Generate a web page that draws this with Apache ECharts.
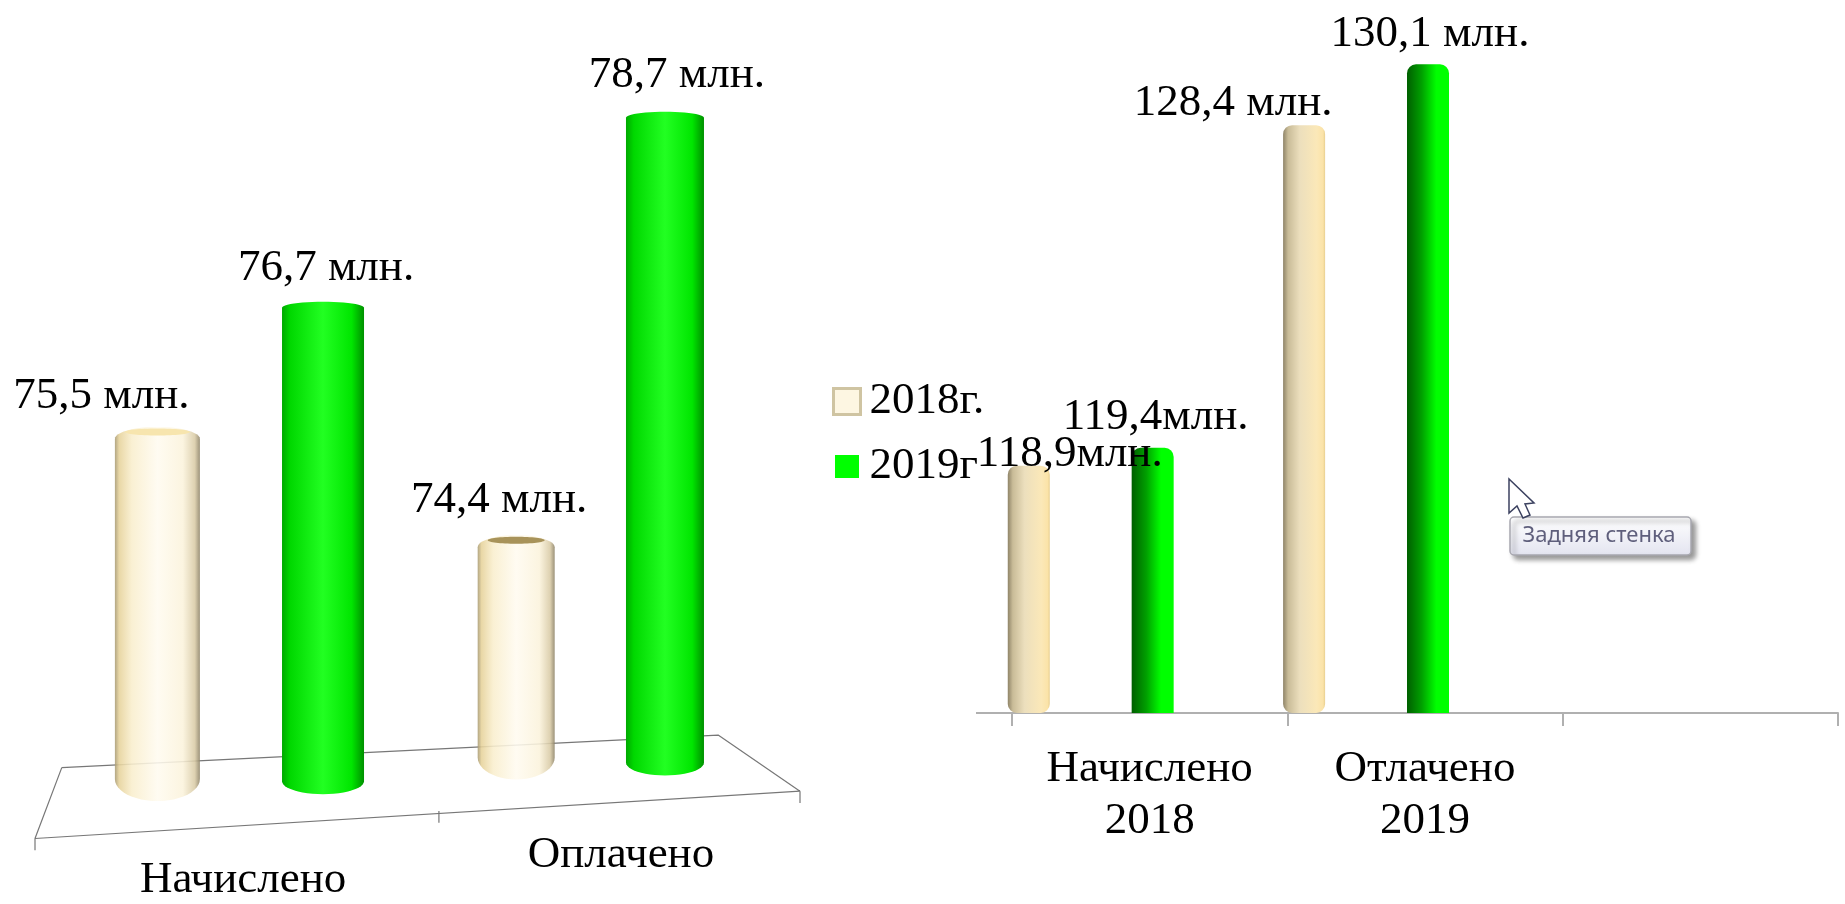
<!DOCTYPE html>
<html>
<head>
<meta charset="utf-8">
<style>
  html, body { margin: 0; padding: 0; background: #fff; }
  #chart { width: 1845px; height: 904px; }
</style>
<script src="https://cdn.jsdelivr.net/npm/echarts@6/dist/echarts.min.js"></script>
</head>
<body>
<div id="chart"></div>
<script>
// data: left chart
const left2018 = [75.5, 74.4];
const left2019 = [76.7, 78.7];
const left2018Labels = ['75,5 млн.', '74,4 млн.'];
const left2019Labels = ['76,7 млн.', '78,7 млн.'];
const leftCategories = ['Начислено', 'Оплачено'];

// data: right chart
const rightCategories = ['Начислено\n2018', 'Отлачено\n2019', ''];
const right2018 = [118.9, 128.4];
const right2019 = [119.4, 130.1];
const right2018Labels = ['118,9млн.', '128,4 млн.'];
const right2019Labels = ['119,4млн.', '130,1 млн.'];
const rightAxisFloor = 112;

// left chart is a flat perspective picture, so the floor and the bar feet are read in axis units
const left2018Foot = [71.7, 71.92];
const left2019Foot = [71.77, 71.96];
const left2018X = [0.32, 1.258];
const left2019X = [0.753, 1.647];
const floorX = [0.07, 1.786, 2, 0, 0.07];
const floorY = [72.04, 72.37, 71.8, 71.32, 72.04];
const floorTickX = [0, 1.056, 2];
const floorTickY = [71.32, 71.6, 71.8];
const leftCategoryX = [0.544, 1.532];
const leftCategoryY = [70.9, 71.15];

const FONT = '"Liberation Serif", "Times New Roman", serif';
const TEXT_SIZE = 45;

const chart = echarts.init(document.getElementById('chart'));

const hGrad = stops => new echarts.graphic.LinearGradient(0, 0, 1, 0,
  stops.map(s => ({ offset: s[0], color: s[1] })));

const beigeCylinder = hGrad([[0, '#a89a72'], [0.05, '#e6d29a'], [0.2, '#f9eecd'], [0.5, '#fffbf0'],
  [0.8, '#fbf3dc'], [0.94, '#d9cba6'], [1, '#8f8468']]);
const greenCylinder = hGrad([[0, '#00a800'], [0.1, '#00d800'], [0.5, '#22ff22'], [0.85, '#00e600'], [1, '#009000']]);
const beigeBar = hGrad([[0, '#8f8468'], [0.12, '#c9bc98'], [0.4, '#ecdfbd'], [0.8, '#fbe8b8'], [0.95, '#fbe3a8'], [1, '#e8cf90']]);
const greenBar = hGrad([[0, '#005f00'], [0.35, '#00a000'], [0.7, '#00ff00'], [1, '#00ff00']]);

// half ellipse points from left to right edge, bulging by ry (negative bulges up)
const arcPoints = (cx, cy, rx, ry, flip) => {
  const pts = [];
  for (let i = 0; i <= 24; i++) {
    const a = Math.PI * i / 24;
    const x = cx - Math.cos(a) * rx;
    pts.push([flip ? 2 * cx - x : x, cy + Math.sin(a) * ry]);
  }
  return pts;
};

const cylinderItem = (opts) => (params, api) => {
  const i = params.dataIndex;
  const top = api.coord([api.value(0), api.value(1)]);
  const foot = api.coord([api.value(0), api.value(2)]);
  const w = opts.widths[i];
  const cx = top[0];
  const topY = top[1] - opts.lift[i];
  const points = arcPoints(cx, topY + opts.capTop, w / 2, -opts.capTop, false)
    .concat(arcPoints(cx, foot[1] - opts.capFoot, w / 2, opts.capFoot, true));
  const children = [{
    type: 'polygon',
    shape: { points },
    style: { fill: opts.fill, opacity: opts.opacity }
  }];
  if (opts.capFill) {
    children.push({
      type: 'ellipse',
      shape: { cx, cy: topY + 5, rx: w / 2 - 10, ry: 3.5 },
      style: { fill: opts.capFill[i] }
    });
  }
  children.push({
    type: 'text',
    style: {
      text: opts.labels[i],
      x: cx + opts.labelShift[i][0],
      y: topY + opts.labelShift[i][1],
      align: 'center',
      verticalAlign: 'middle',
      font: TEXT_SIZE + 'px ' + FONT,
      fill: '#000'
    }
  });
  return { type: 'group', children };
};

const floorTicks = [];
floorTickX.forEach((x, i) => {
  floorTicks.push([x, floorTickY[i]], [x, floorTickY[i] - 0.12], '-');
});

const option = {
  backgroundColor: '#fff',
  animation: false,
  textStyle: { fontFamily: FONT },
  legend: {
    orient: 'vertical',
    left: 827,
    top: 374,
    itemWidth: 27,
    itemHeight: 26,
    itemGap: 20,
    icon: 'rect',
    selectedMode: false,
    textStyle: { fontFamily: FONT, fontSize: TEXT_SIZE, color: '#000', padding: [0, 0, 0, 4] },
    data: [
      { name: '2018г.', itemStyle: { color: '#fdf6e2', borderColor: '#cfc4a2', borderWidth: 3 } },
      { name: '2019г', itemStyle: { color: '#00ff00', borderColor: '#fff', borderWidth: 3 } }
    ]
  },
  grid: [
    { left: 35, width: 765, top: 33, height: 837 },
    { left: 1012, right: 7, top: 32, bottom: 191 }
  ],
  xAxis: [
    { type: 'value', gridIndex: 0, min: 0, max: 2, show: false },
    {
      type: 'category',
      gridIndex: 1,
      data: rightCategories,
      axisLine: { show: true, lineStyle: { color: '#b0b0b0', width: 2 } },
      axisTick: { show: true, length: 13, lineStyle: { color: '#b0b0b0', width: 2 } },
      axisLabel: { interval: 0, margin: 30, color: '#000', fontFamily: FONT, fontSize: TEXT_SIZE, lineHeight: 52 }
    }
  ],
  yAxis: [
    { type: 'value', gridIndex: 0, min: 71, max: 79.5, show: false },
    // truncated axis: bars start at 0 in echarts, so they are drawn above rightAxisFloor
    { type: 'value', gridIndex: 1, min: 0, max: 19, show: false }
  ],
  series: [
    {
      name: 'floor',
      type: 'line',
      xAxisIndex: 0,
      yAxisIndex: 0,
      data: floorX.map((x, i) => [x, floorY[i]]),
      symbol: 'none',
      clip: false,
      silent: true,
      lineStyle: { color: '#777', width: 1.2 },
      z: 1
    },
    {
      name: 'floorTicks',
      type: 'line',
      xAxisIndex: 0,
      yAxisIndex: 0,
      data: floorTicks,
      symbol: 'none',
      clip: false,
      silent: true,
      lineStyle: { color: '#777', width: 1.2 },
      z: 1
    },
    {
      name: 'left2018',
      type: 'custom',
      xAxisIndex: 0,
      yAxisIndex: 0,
      clip: false,
      z: 3,
      encode: { x: 0, y: 1 },
      data: left2018.map((v, i) => [left2018X[i], v, left2018Foot[i]]),
      renderItem: cylinderItem({
        widths: [85, 77],
        lift: [0, 0],
        capTop: 12,
        capFoot: 22,
        fill: beigeCylinder,
        opacity: 0.88,
        capFill: ['#f7e5ae', '#a8935a'],
        labels: left2018Labels,
        labelShift: [[-56, -31], [-17, -35]]
      })
    },
    {
      name: 'left2019',
      type: 'custom',
      xAxisIndex: 0,
      yAxisIndex: 0,
      clip: false,
      z: 3,
      encode: { x: 0, y: 1 },
      data: left2019.map((v, i) => [left2019X[i], v, left2019Foot[i]]),
      renderItem: cylinderItem({
        widths: [82, 78],
        lift: [7, 0],
        capTop: 6,
        capFoot: 13,
        fill: greenCylinder,
        opacity: 1,
        labels: left2019Labels,
        labelShift: [[3, -34], [12, -37]]
      })
    },
    {
      name: 'leftCategories',
      type: 'scatter',
      xAxisIndex: 0,
      yAxisIndex: 0,
      clip: false,
      silent: true,
      symbolSize: 1,
      itemStyle: { opacity: 0 },
      data: leftCategories.map((name, i) => ({ name, value: [leftCategoryX[i], leftCategoryY[i]] })),
      label: {
        show: true,
        position: 'inside',
        formatter: '{b}',
        color: '#000',
        opacity: 1,
        fontFamily: FONT,
        fontSize: TEXT_SIZE
      }
    },
    {
      name: '2018г.',
      type: 'bar',
      xAxisIndex: 1,
      yAxisIndex: 1,
      clip: false,
      barWidth: 42,
      barGap: '195%',
      itemStyle: { color: beigeBar, borderRadius: 9 },
      data: right2018.map((value, i) => ({
        value: value - rightAxisFloor,
        label: {
          show: true,
          position: 'top',
          distance: 0,
          formatter: right2018Labels[i],
          offset: [[41, 11], [-71, 0]][i],
          color: '#000',
          fontFamily: FONT,
          fontSize: TEXT_SIZE
        }
      })),
      z: 3
    },
    {
      name: '2019г',
      type: 'bar',
      xAxisIndex: 1,
      yAxisIndex: 1,
      clip: false,
      barWidth: 42,
      itemStyle: { color: greenBar, borderRadius: [9, 9, 0, 0] },
      data: right2019.map((value, i) => ({
        value: value - rightAxisFloor,
        label: {
          show: true,
          position: 'top',
          distance: 0,
          formatter: right2019Labels[i],
          offset: [[3, -8], [2, -8]][i],
          color: '#000',
          fontFamily: FONT,
          fontSize: TEXT_SIZE
        }
      })),
      z: 3
    },
    // the source chart has an empty third series, it is what pushes the bars left of the band centre
    {
      name: 'Ряд 3',
      type: 'bar',
      xAxisIndex: 1,
      yAxisIndex: 1,
      barWidth: 36,
      data: []
    }
  ],
  graphic: [
    // axis line runs on past the first tick
    {
      type: 'line',
      shape: { x1: 976, y1: 713, x2: 1012, y2: 713 },
      style: { stroke: '#b0b0b0', lineWidth: 2 },
      silent: true
    },
    // hover tooltip and mouse pointer caught in the screenshot
    {
      type: 'rect',
      shape: { x: 1510, y: 517, width: 181, height: 38, r: 4 },
      style: {
        fill: new echarts.graphic.LinearGradient(0, 0, 0, 1, [
          { offset: 0, color: '#ffffff' },
          { offset: 1, color: '#e3e4f0' }
        ]),
        stroke: '#a8a8b0',
        lineWidth: 1.5,
        shadowBlur: 5,
        shadowOffsetX: 4,
        shadowOffsetY: 4,
        shadowColor: 'rgba(0,0,0,0.4)'
      },
      z: 10
    },
    {
      type: 'text',
      style: {
        text: 'Задняя стенка',
        x: 1599,
        y: 536,
        align: 'center',
        verticalAlign: 'middle',
        font: '22px "Noto Sans", sans-serif',
        fill: '#5f5f7c'
      },
      z: 11
    },
    {
      type: 'polygon',
      shape: { points: [[1509, 479], [1509, 513], [1517, 506], [1523, 518], [1530, 515], [1525, 504], [1534, 503]] },
      style: { fill: '#fff', stroke: '#3c4260', lineWidth: 1.5 },
      z: 12
    }
  ]
};

chart.setOption(option);
</script>
</body>
</html>
